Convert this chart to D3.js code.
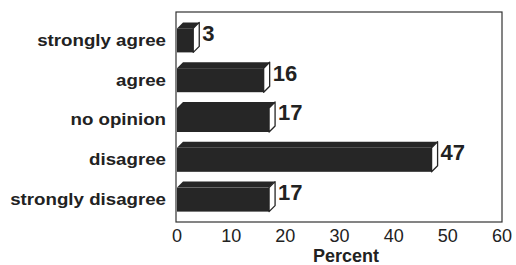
<!DOCTYPE html>
<html>
<head>
<meta charset="utf-8">
<script src="https://cdn.jsdelivr.net/npm/d3@7"></script>
<style>
  body { margin: 0; background: #fff; }
  text { font-family: "Liberation Sans", Arial, Helvetica, sans-serif; fill: #222; }
</style>
</head>
<body>
<div id="chart"></div>
<script>
// chart data
const categories = ['strongly agree', 'agree', 'no opinion', 'disagree', 'strongly disagree'];
const percents = [3, 16, 17, 47, 17];
const xTicks = [0, 10, 20, 30, 40, 50, 60];
const axisTitle = 'Percent';

const width = 516, height = 265;
const plotLeft = 176, plotRight = 502, plotTop = 12, plotBottom = 222;
const depth = 6;
const dark = '#262626';

const svg = d3.select('#chart')
    .append('svg')
    .attr('width', width)
    .attr('height', height);

const x = d3.scaleLinear().domain([0, 60]).range([plotLeft + 1, plotRight]);
const y = d3.scaleBand()
    .domain(categories)
    .range([plotTop, plotBottom])
    .paddingInner(0.246)
    .paddingOuter(0.261);

// plot frame
svg.append('rect')
    .attr('x', plotLeft)
    .attr('y', plotTop)
    .attr('width', plotRight - plotLeft)
    .attr('height', plotBottom - plotTop)
    .attr('fill', 'none')
    .attr('stroke', '#333')
    .attr('stroke-width', 1.2);

const rows = categories.map((c, i) => ({ cat: c, val: percents[i] }));

const bars = svg.selectAll('g.bar')
    .data(rows)
    .enter()
    .append('g')
    .attr('class', 'bar');

// front face
bars.append('rect')
    .attr('x', x(0))
    .attr('y', d => y(d.cat) + depth)
    .attr('width', d => x(d.val) - x(0))
    .attr('height', y.bandwidth() - depth)
    .attr('fill', dark);

// top face
bars.append('polygon')
    .attr('points', d => {
        const t = y(d.cat), x0 = x(0), x1 = x(d.val);
        return [[x0, t + depth], [x0 + depth, t], [x1 + depth, t], [x1, t + depth]].join(' ');
    })
    .attr('fill', dark);

// side face
bars.append('polygon')
    .attr('points', d => {
        const t = y(d.cat), b = t + y.bandwidth(), x1 = x(d.val);
        return [[x1, t + depth], [x1 + depth, t], [x1 + depth, b - depth], [x1, b]].join(' ');
    })
    .attr('fill', '#fff')
    .attr('stroke', dark)
    .attr('stroke-width', 1.3)
    .attr('stroke-linejoin', 'round');

// value labels
bars.append('text')
    .attr('x', d => x(d.val) + depth + 3)
    .attr('y', d => y(d.cat) + 18.5)
    .attr('font-size', 22)
    .attr('font-weight', 'bold')
    .text(d => d.val);

// category labels (slightly wide lettering)
svg.selectAll('text.cat')
    .data(categories)
    .enter()
    .append('text')
    .attr('class', 'cat')
    .attr('transform', d => `translate(166,${y(d) + 23.5}) scale(1.1,1)`)
    .attr('text-anchor', 'end')
    .attr('font-size', 17)
    .attr('font-weight', 'bold')
    .text(d => d);

// x tick labels
svg.selectAll('text.tick')
    .data(xTicks)
    .enter()
    .append('text')
    .attr('class', 'tick')
    .attr('x', d => x(d))
    .attr('y', 242)
    .attr('text-anchor', 'middle')
    .attr('font-size', 18)
    .text(d => d);

svg.append('text')
    .attr('x', (plotLeft + plotRight) / 2 + 7)
    .attr('y', 262)
    .attr('text-anchor', 'middle')
    .attr('font-size', 18)
    .attr('font-weight', 'bold')
    .text(axisTitle);
</script>
</body>
</html>
